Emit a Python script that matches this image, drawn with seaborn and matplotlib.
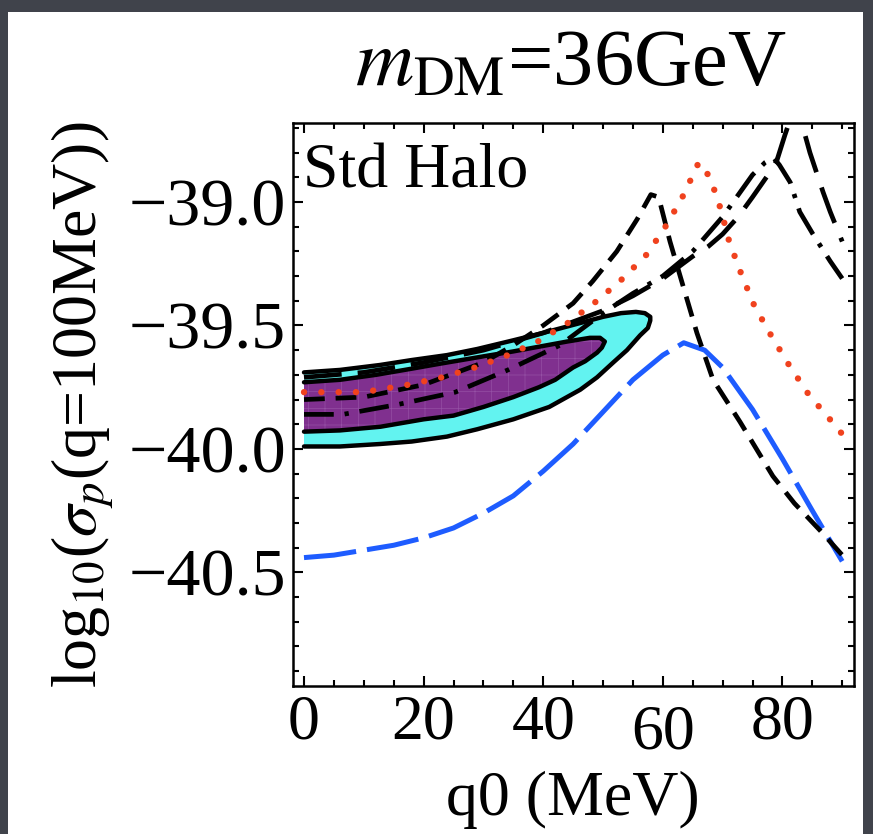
import numpy as np
import matplotlib
matplotlib.use("Agg")
import matplotlib.pyplot as plt
import matplotlib.transforms as mtransforms
from matplotlib.patches import Rectangle
from matplotlib.ticker import MultipleLocator
import seaborn as sns

# ---------------- data ----------------
# short-dashed black curve
dash_x = [0, 10, 20, 30, 35, 40, 45, 48.3, 52.3, 55.7, 58, 59.3, 61.2, 62.9, 65.7, 68.4, 72.9, 78.4, 82, 86.3, 90]
dash_y = [-39.80, -39.79, -39.74, -39.65, -39.58, -39.50, -39.41, -39.32, -39.20, -39.07, -38.97, -38.98,
          -39.16, -39.30, -39.53, -39.72, -39.89, -40.11, -40.22, -40.33, -40.43]

# red dotted curve
red_x = [0, 10, 17.4, 23.1, 28.6, 34.1, 39.5, 44.1, 49, 53.3, 57.4, 60.7, 63.5, 66, 67.9, 69.7, 71.1,
         73.1, 75.3, 78.1, 81.1, 84.4, 88.3, 90]
red_y = [-39.77, -39.77, -39.74, -39.71, -39.67, -39.62, -39.56, -39.49, -39.40, -39.31, -39.21, -39.09,
         -38.97, -38.84, -38.90, -39.03, -39.16, -39.29, -39.42, -39.54, -39.66, -39.78, -39.89, -39.94]

# black dot-dashed curve
dotdash_x = [0, 6.5, 15.7, 25.3, 34.1, 42.8, 50, 55, 60, 65, 70, 75, 77.1, 78.5, 79.5, 81.3, 82.9, 85.1, 88, 90]
dotdash_y = [-39.86, -39.86, -39.82, -39.77, -39.68, -39.58, -39.45, -39.37, -39.30, -39.20, -39.06, -38.89,
             -38.84, -38.82, -38.85, -38.92, -39.04, -39.13, -39.24, -39.31]

# black long-dashed curve
longdash_x = [0, 10, 20, 30, 40, 50, 55, 60, 65, 67.6, 70, 72.6, 75, 77.6, 79.1, 80.4, 82.5, 83.8, 84.6,
              86.8, 88, 90]
longdash_y = [-39.71, -39.69, -39.65, -39.60, -39.53, -39.44, -39.38, -39.31, -39.22, -39.18, -39.13, -39.06,
              -38.98, -38.89, -38.83, -38.73, -38.58, -38.73, -38.80, -38.96, -39.04, -39.16]

# blue long-dashed curve
blue_x = [0, 5, 10, 15, 20, 25, 30, 35, 40, 45, 50, 55, 60, 63.5, 67, 70, 75, 80, 85, 90]
blue_y = [-40.44, -40.43, -40.41, -40.39, -40.36, -40.32, -40.26, -40.19, -40.09, -39.98, -39.85, -39.72,
          -39.62, -39.57, -39.60, -39.67, -39.84, -40.04, -40.25, -40.455]

# outer (cyan) region boundary
outer_top_x = [0, 6, 12.7, 18, 23.9, 29, 35, 40, 46.2, 50, 53, 55.5, 57, 57.9]
outer_top_y = [-39.69, -39.68, -39.66, -39.64, -39.62, -39.595, -39.56, -39.53, -39.49, -39.465, -39.45,
               -39.445, -39.45, -39.465]
outer_bot_x = [57.9, 57.5, 56.2, 54, 51.7, 49, 46.2, 41, 35, 29, 23.9, 18, 12.7, 6, 0]
outer_bot_y = [-39.48, -39.51, -39.54, -39.60, -39.65, -39.71, -39.76, -39.83, -39.88, -39.92, -39.95,
               -39.97, -39.98, -39.99, -39.99]

# inner (purple) region boundary
inner_top_x = [0, 6, 12, 18, 22.7, 30, 35, 39.5, 44, 47.8, 49.5, 50.3]
inner_top_y = [-39.73, -39.72, -39.70, -39.675, -39.655, -39.625, -39.605, -39.585, -39.565, -39.55,
               -39.55, -39.565]
inner_bot_x = [50.3, 49.8, 49, 47, 45, 42, 39.3, 35, 30, 25, 20, 12.8, 6, 0]
inner_bot_y = [-39.565, -39.59, -39.61, -39.645, -39.67, -39.72, -39.75, -39.79, -39.83, -39.865, -39.88,
               -39.91, -39.925, -39.93]

xtick_values = [0, 20, 40, 60, 80]
xtick_labels = ["0", "20", "40", "60", "80"]
ytick_values = [-40.5, -40.0, -39.5, -39.0]
ytick_labels = ["\u221240.5", "\u221240.0", "\u221239.5", "\u221239.0"]

title_text = r"$m_{\mathrm{DM}}$=36GeV"
xlabel_text = "q0 (MeV)"
ylabel_text = r"log$_{10}$($\sigma_p$(q=100MeV))"
inset_text = "Std Halo"

# ---------------- style ----------------
sns.set_theme(style="ticks")
plt.rcParams["font.family"] = ["Liberation Serif", "DejaVu Serif"]
plt.rcParams["mathtext.fontset"] = "stix"
plt.rcParams["hatch.linewidth"] = 0.5

FS = 46
BLACK_LW = 3.4

fig = plt.figure(figsize=(8.73, 8.34), dpi=100)
fig.patch.set_facecolor("#40434b")
fig.patches.append(Rectangle((8 / 873, 0), (863 - 8) / 873, (834 - 12) / 834,
                             transform=fig.transFigure, facecolor="white", edgecolor="none", zorder=-10))

ax = fig.add_axes([293 / 873, 1 - 686 / 834, (854 - 293) / 873, (686 - 123) / 834])
ax.set_facecolor("white")

# regions
ox = np.r_[outer_top_x, outer_bot_x]
oy = np.r_[outer_top_y, outer_bot_y]
ix = np.r_[inner_top_x, inner_bot_x]
iy = np.r_[inner_top_y, inner_bot_y]
ax.fill(ox, oy, facecolor="#62f3f0", edgecolor="none", lw=0, zorder=1)
ax.plot(ox, oy, color="black", lw=3.2, zorder=2, solid_joinstyle="round")
ax.fill(ix, iy, facecolor="#80308f", edgecolor="#9550a5", hatch="+", lw=0, zorder=2.1)
ax.plot(ix, iy, color="black", lw=3.2, zorder=2.2, solid_joinstyle="round")

common = dict(ax=ax, estimator=None, sort=False, errorbar=None, legend=False)

sns.lineplot(x=blue_x, y=blue_y, color="#1e5cff", lw=3.6, linestyle=(0, (10.5, 2.2)), zorder=3, **common)
sns.lineplot(x=longdash_x, y=longdash_y, color="black", lw=BLACK_LW, linestyle=(0, (8.0, 3.4)), zorder=3.2, **common)
sns.lineplot(x=dotdash_x, y=dotdash_y, color="black", lw=BLACK_LW, linestyle=(0, (6.3, 2.3, 0.9, 2.3)),
             zorder=3.3, **common)
sns.lineplot(x=dash_x, y=dash_y, color="black", lw=BLACK_LW, linestyle=(0, (4.4, 2.3)), zorder=3.4, **common)
sns.lineplot(x=red_x, y=red_y, color="#f0421e", lw=4.6, linestyle=(0, (0.01, 2.7)), dash_capstyle="round",
             zorder=3.6, **common)

ax.set_xlim(-1.84, 91.97)
ax.set_ylim(-40.96, -38.68)

ax.set_xticks(xtick_values)
ax.set_xticklabels(xtick_labels)
ax.set_yticks(ytick_values)
ax.set_yticklabels(ytick_labels)
ax.xaxis.set_minor_locator(MultipleLocator(5))
ax.yaxis.set_minor_locator(MultipleLocator(0.1))
ax.tick_params(which="both", direction="in", top=True, right=True, color="black", width=1.5,
               labelcolor="black")
ax.tick_params(axis="x", labelsize=FS)
ax.tick_params(axis="y", labelsize=49)
ax.tick_params(which="major", length=7.5)
ax.tick_params(which="minor", length=4.5)
ax.tick_params(axis="x", which="major", pad=6)
ax.tick_params(axis="y", which="major", pad=5)
for sp in ax.spines.values():
    sp.set_color("black")
    sp.set_linewidth(1.8)

# "60" label sits a little lower in the reference
lbl60 = ax.get_xticklabels()[3]
lbl60.set_transform(lbl60.get_transform() + mtransforms.ScaledTranslation(0, -10 / 100, fig.dpi_scale_trans))

ax.set_xlabel("")
ax.set_ylabel("")

ax.text(0.018, 0.886, inset_text, transform=ax.transAxes, fontsize=FS, ha="left", va="baseline", color="black")

fig.text(571 / 873, 1 - 85 / 834, title_text, fontsize=58, ha="center", va="baseline", color="black")
fig.text(573 / 873, 1 - 815 / 834, xlabel_text, fontsize=FS, ha="center", va="baseline", color="black")
fig.text(97 / 873, 1 - 404.5 / 834, ylabel_text, fontsize=FS, rotation=90, rotation_mode="anchor",
         ha="center", va="baseline", color="black")

fig.savefig("out.png", dpi=100, facecolor=fig.get_facecolor())
